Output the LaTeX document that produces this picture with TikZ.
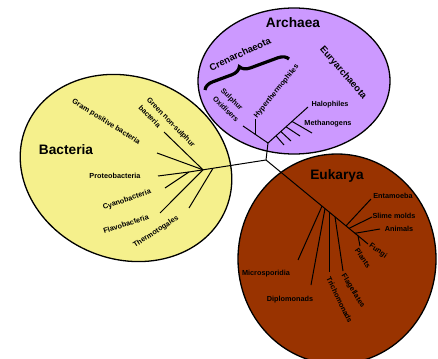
\documentclass[tikz,border=0pt]{standalone}
\usepackage{fontspec}
\setmainfont{Liberation Sans}
\usetikzlibrary{decorations.pathreplacing}
\definecolor{archaeafill}{RGB}{204,153,255}
\definecolor{bacteriafill}{RGB}{245,240,140}
\definecolor{eukaryafill}{RGB}{153,51,0}
\tikzset{
    line cap=round,line join=round,
    realm/.style={draw=black,line width=1.3pt},
    branch/.style={draw=black,line width=1pt},
    kingdom/.style={font=\bfseries\fontsize{13.7}{16}\selectfont,inner sep=0pt},
    phylum/.style={font=\bfseries\fontsize{9.5}{11}\selectfont,inner sep=0pt},
    taxon/.style={font=\bfseries\fontsize{7.3}{11.5}\selectfont,inner sep=0pt},
}

\begin{document}
\begin{tikzpicture}[x=1pt,y=-1pt]
    \useasboundingbox (0,0) rectangle (438,358);
    \clip (0,0) rectangle (438,358);

    \draw[realm,fill=archaeafill] (294,81) ellipse [x radius=96, y radius=73];
    \draw[realm,fill=bacteriafill,rotate around={-22:(126,168)}] (126,168) ellipse [x radius=108, y radius=91];
    \draw[realm,fill=eukaryafill] (337,259) ellipse [x radius=99, y radius=105];

    % junctions of the tree
    \coordinate (root) at (266,160);
    \coordinate (arc) at (268,143);
    \coordinate (bac) at (189,172);
    \coordinate (bacmid) at (203,169.8);
    \coordinate (bacup) at (213,168.3);
    \coordinate (euk) at (368,244);

    \draw[branch] (root) -- (arc);
    \draw[branch] (root) -- (bac);
    \draw[branch] (root) -- (euk);

    % Archaea
    \node[kingdom] (archaea) at (293,23) {Archaea};
    \node[phylum,rotate=25] (crenarch) at (240,54) {Crenarchaeota};
    \node[phylum,rotate=-49] (euryarch) at (343,73) {Euryarchaeota};
    \draw[line width=3.2pt,decorate,decoration={brace,amplitude=10pt,aspect=0.45}] (205,90) coordinate (brace1) -- (289,59) coordinate (brace2);
    \node[taxon,align=left,rotate=-45] (sulphur) at (230,105) {Sulphur\\Oxidisers};
    \node[taxon,rotate=51] (hyper) at (276.5,91.5) {Hyperthermophiles};
    \node[taxon] (halo) at (330,105) {Halophiles};
    \node[taxon] (methano) at (328,124) {Methanogens};

    \coordinate (sulphurtip) at (243,126);
    \coordinate (hyperbase) at (255,134.2);
    \coordinate (hypertip) at (255,119);
    \coordinate (halotip) at (308,107);
    \draw[branch] (arc) -- (sulphurtip);
    \draw[branch] (hyperbase) -- (hypertip);
    \draw[branch] (arc) -- (halotip);
    \foreach \bx/\by/\ex/\ey in {276/135.8/284/145, 280.8/131.5/291/141, 286/126.8/300/136, 292/121.4/312/133}
        \draw[branch] (\bx,\by) -- (\ex,\ey);

    % Bacteria
    \node[kingdom] (bacteria) at (66,149.5) {Bacteria};
    \node[taxon,rotate=-32] (grampos) at (106,122) {Gram positive bacteria};
    \node[taxon,align=left,rotate=-46] (greennon) at (167,126) {Green non-sulphur\\bacteria};
    \node[taxon] (proteo) at (115,176) {Proteobacteria};
    \node[taxon,rotate=19] (cyano) at (127,200) {Cyanobacteria};
    \node[taxon,rotate=18] (flavo) at (126,224) {Flavobacteria};
    \node[taxon,rotate=33] (thermo) at (156,232) {Thermotogales};

    \coordinate (gramtip) at (157,153);
    \coordinate (greentip) at (164,132);
    \coordinate (proteotip) at (158,176);
    \coordinate (cyanotip) at (165,188);
    \coordinate (flavotip) at (160,213);
    \coordinate (thermotip) at (189,208);
    \draw[branch] (bacmid) -- (gramtip);
    \draw[branch] (bacmid) -- (greentip);
    \draw[branch] (bac) -- (proteotip);
    \draw[branch] (bac) -- (cyanotip);
    \draw[branch] (bacmid) -- (flavotip);
    \draw[branch] (bacup) -- (thermotip);

    % Eukarya
    \node[kingdom] (eukarya) at (337,176) {Eukarya};
    \node[taxon] (entamoeba) at (393,196) {Entamoeba};
    \node[taxon] (slime) at (394,216) {Slime molds};
    \node[taxon] (animals) at (399,229) {Animals};
    \node[taxon,rotate=-36] (fungi) at (378,251) {Fungi};
    \node[taxon,rotate=-56] (plants) at (363,258) {Plants};
    \node[taxon] (micro) at (266,274) {Microsporidia};
    \node[taxon] (diplo) at (290,300) {Diplomonads};
    \node[taxon,rotate=-64] (tricho) at (339.5,300) {Trichomonads};
    \node[taxon,rotate=-58] (flag) at (353,291) {Flagellates};

    \foreach \bx/\ex/\ey in {322/298/260, 325/311/285, 329/329/272, 335/343/271, 346/371/199, 349/372/217, 355/380/229, 358/360/246}
        \draw[branch] (\bx,{160+(\bx-266)*0.8235}) -- (\ex,\ey);
\end{tikzpicture}
\end{document}
